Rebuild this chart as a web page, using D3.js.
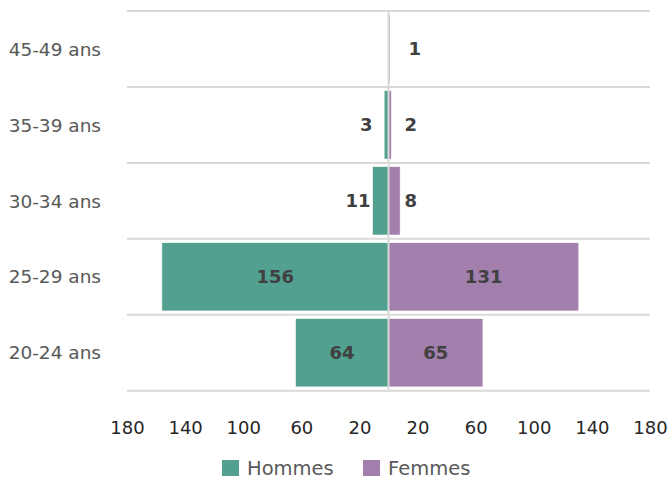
<!DOCTYPE html>
<html>
<head>
<meta charset="utf-8">
<script src="https://cdn.jsdelivr.net/npm/d3@7"></script>
<style>
  html, body { margin: 0; padding: 0; background: #fff; }
  svg { display: block; font-family: "DejaVu Sans", sans-serif; }
</style>
</head>
<body>
<svg id="chart" width="670" height="480"></svg>
<script>
// ---- data ----
const categories = ["45-49 ans", "35-39 ans", "30-34 ans", "25-29 ans", "20-24 ans"];
const hommes = [0, 3, 11, 156, 64];
const femmes = [1, 2, 8, 131, 65];
const tickValues = [-180, -140, -100, -60, -20, 20, 60, 100, 140, 180];
const seriesNames = ["Hommes", "Femmes"];
const colors = ["#52a08f", "#a27fad"];

const svg = d3.select("#chart");

const x = d3.scaleLinear().domain([-180, 180]).range([127, 650]);
const y = d3.scaleBand().domain(categories).range([11, 390.7])
  .paddingInner(0.1).paddingOuter(0.05);

const x0 = x(0);
const gridColor = "#d9d9d9";

// horizontal gridlines at band boundaries
const boundaries = categories.map(c => y(c) - y.step() * y.paddingInner() / 2);
boundaries.push(y(categories[categories.length - 1]) + y.bandwidth() + y.step() * y.paddingInner() / 2);
svg.append("g").selectAll("line").data(boundaries).join("line")
  .attr("x1", x(-180)).attr("x2", x(180))
  .attr("y1", d => d).attr("y2", d => d)
  .attr("stroke", gridColor).attr("stroke-width", 2);

const rows = categories.map((c, i) => ({ cat: c, h: hommes[i], f: femmes[i] }));

// bars
const bars = svg.append("g");
bars.selectAll("rect.h").data(rows.filter(d => d.h > 0)).join("rect")
  .attr("class", "h")
  .attr("x", d => x(-d.h)).attr("width", d => x0 - x(-d.h))
  .attr("y", d => y(d.cat)).attr("height", y.bandwidth())
  .attr("fill", colors[0]).attr("stroke", "#fff").attr("stroke-width", 0.6);
bars.selectAll("rect.f").data(rows.filter(d => d.f > 0)).join("rect")
  .attr("class", "f")
  .attr("x", x0).attr("width", d => x(d.f) - x0)
  .attr("y", d => y(d.cat)).attr("height", y.bandwidth())
  .attr("fill", colors[1]).attr("stroke", "#fff").attr("stroke-width", 0.6);

// center axis line
svg.append("line")
  .attr("x1", x0).attr("x2", x0)
  .attr("y1", boundaries[0]).attr("y2", boundaries[boundaries.length - 1])
  .attr("stroke", gridColor).attr("stroke-width", 2);

// data labels
const labels = svg.append("g")
  .attr("font-weight", "bold").attr("font-size", 18).attr("fill", "#404040");
rows.forEach(d => {
  const cy = y(d.cat) + y.bandwidth() / 2;
  if (d.h > 0) {
    const w = x0 - x(-d.h);
    if (w > 40) {
      labels.append("text").attr("x", x0 - w / 2).attr("y", cy)
        .attr("text-anchor", "middle").attr("dy", "0.36em").text(d.h);
    } else {
      labels.append("text").attr("x", x0 - Math.max(16, w + 2)).attr("y", cy)
        .attr("text-anchor", "end").attr("dy", "0.36em").text(d.h);
    }
  }
  if (d.f > 0) {
    const w = x(d.f) - x0;
    if (w > 40) {
      labels.append("text").attr("x", x0 + w / 2).attr("y", cy)
        .attr("text-anchor", "middle").attr("dy", "0.36em").text(d.f);
    } else {
      labels.append("text").attr("x", x0 + Math.max(16, w + 4) + (w < 2 ? 4 : 0)).attr("y", cy)
        .attr("text-anchor", "start").attr("dy", "0.36em").text(d.f);
    }
  }
});

// category labels
svg.append("g").selectAll("text").data(categories).join("text")
  .attr("x", 101).attr("y", d => y(d) + y.bandwidth() / 2)
  .attr("dy", "0.36em").attr("text-anchor", "end")
  .attr("font-size", 18.5).attr("fill", "#595959")
  .text(d => d);

// x axis (ticks as absolute values, no line)
const xAxis = d3.axisBottom(x).tickValues(tickValues)
  .tickFormat(d => Math.abs(d)).tickSize(0).tickPadding(0);
const gx = svg.append("g").attr("transform", "translate(0,421)").call(xAxis);
gx.select(".domain").remove();
gx.selectAll("text").attr("font-size", 18).attr("fill", "#262626")
  .attr("font-family", "DejaVu Sans, sans-serif");

// legend
const legendX = [222, 363];
const lg = svg.append("g");
seriesNames.forEach((name, i) => {
  lg.append("rect").attr("x", legendX[i]).attr("y", 460).attr("width", 17).attr("height", 16)
    .attr("fill", colors[i]);
  lg.append("text").attr("x", legendX[i] + 25).attr("y", 475)
    .attr("font-size", 19.5).attr("fill", "#595959").text(name);
});
</script>
</body>
</html>
